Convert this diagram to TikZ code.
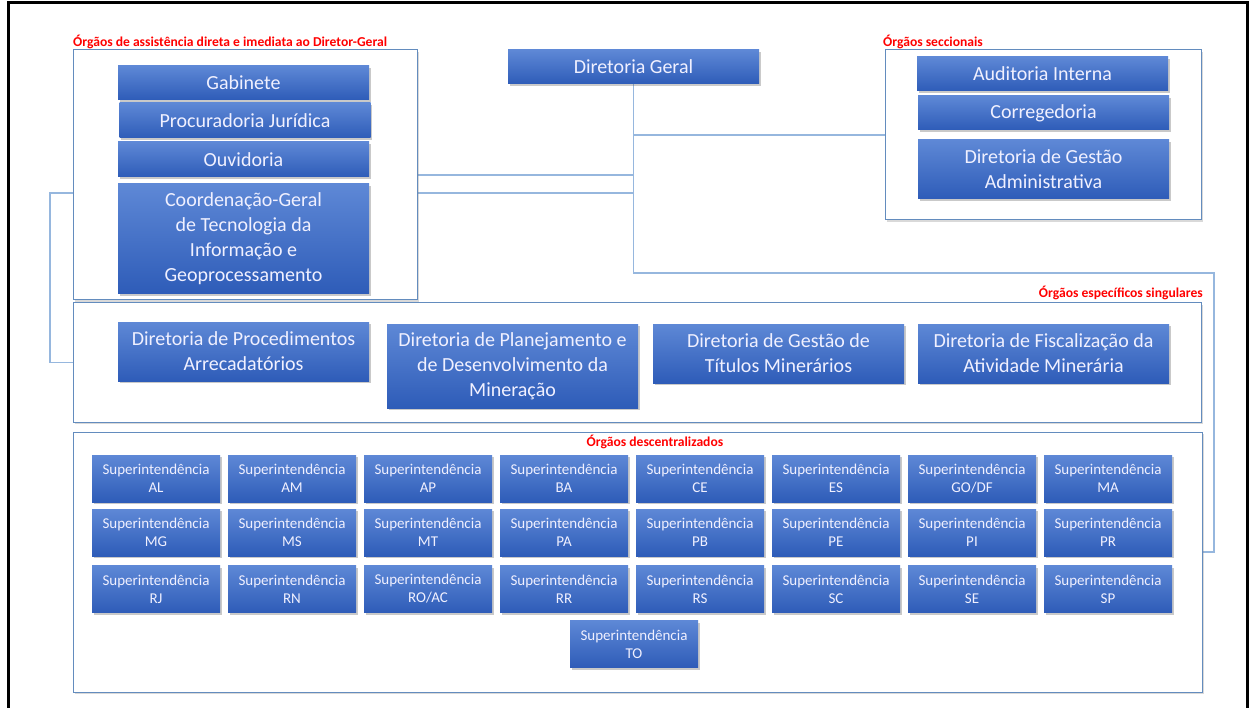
\documentclass[tikz,border=0pt]{standalone}
\usepackage{fontspec}
\setmainfont{Carlito}
\usetikzlibrary{shadows,positioning,backgrounds}
\definecolor{unittop}{RGB}{94,136,214}
\definecolor{unitbot}{RGB}{46,92,184}
\definecolor{groupline}{RGB}{99,140,190}
\definecolor{linkcolor}{RGB}{150,183,222}
\definecolor{titlered}{RGB}{255,0,0}

\begin{document}
\begin{tikzpicture}[x=1pt, y=-1pt,
    unit/.style={rectangle, top color=unittop, bottom color=unitbot, text=white!94!blue, align=center, inner sep=0pt, minimum width=251pt, font=\fontsize{20}{25}\selectfont, drop shadow={shadow xshift=1.5pt, shadow yshift=-2pt, opacity=0.35, fill=black!60}},
    superint/.style={unit, minimum width=128pt, minimum height=47pt, font=\fontsize{15}{18}\selectfont},
    group/.style={rectangle, draw=groupline, line width=1pt, fill=white, inner sep=0pt, drop shadow={shadow xshift=2pt, shadow yshift=-2pt, opacity=0.3, fill=black!50}},
    grouptitle/.style={text=titlered, font=\fontsize{13.6}{15}\selectfont\bfseries, inner sep=0pt},
    link/.style={draw=linkcolor, line width=1.5pt}
]
\useasboundingbox (0,0) rectangle (1249,708);

% Frame
\draw[line width=3pt] (8,720) |- (1247,3) -- (1247,720);

% Groups
\node[group, minimum width=344pt, minimum height=250pt] (gAssist) at (245,175) {};
\node[group, minimum width=316pt, minimum height=170pt] (gSecc) at (1043,135) {};
\node[group, minimum width=1128pt, minimum height=119pt] (gEsp) at (637,362.5) {};
\node[group, minimum width=1129pt, minimum height=260pt] (gDesc) at (637.5,562) {};

\node[grouptitle, anchor=base west] (tAssist) at (73,47) {Órgãos de assistência direta e imediata ao Diretor-Geral};
\node[grouptitle, anchor=base west] (tSecc) at (883,47) {Órgãos seccionais};
\node[grouptitle, anchor=base east] (tEsp) at (1203,298) {Órgãos específicos singulares};
\node[grouptitle, anchor=base] (tDesc) at (655,446) {Órgãos descentralizados};

% Diretoria Geral
\node[unit, minimum height=34pt] (dg) at (633.5,67) {Diretoria Geral};

% Assistencia direta
\node[unit, minimum height=34pt] (gab) at (243.5,83) {Gabinete};
\node[unit, minimum height=35pt] (proc) at (245,120.5) {Procuradoria Jurídica};
\node[unit, minimum height=35pt] (ouv) at (243.5,159.5) {Ouvidoria};
\node[unit, minimum height=110pt] (cgti) at (243.5,239) {Coordenação-Geral\\de Tecnologia da\\Informação e\\Geoprocessamento};

% Seccionais
\node[unit, minimum height=34pt] (aud) at (1042.5,74) {Auditoria Interna};
\node[unit, minimum height=34pt] (corr) at (1043.5,113) {Corregedoria};
\node[unit, minimum height=59pt] (dga) at (1043.5,169.5) {Diretoria de Gestão\\Administrativa};

% Especificos singulares
\node[unit, minimum height=59pt] (dpa) at (243.5,351.5) {Diretoria de Procedimentos\\Arrecadatórios};
\node[unit, minimum height=84pt] (dpdm) at (512.5,366) {Diretoria de Planejamento e\\de Desenvolvimento da\\Mineração};
\node[unit, minimum height=59pt] (dgtm) at (778.5,353.5) {Diretoria de Gestão de\\Títulos Minerários};
\node[unit, minimum height=59pt] (dfam) at (1043.5,353.5) {Diretoria de Fiscalização da\\Atividade Minerária};

% Descentralizados
\foreach \uf [count=\i from 0] in {AL,AM,AP,BA,CE,ES,{GO/DF},MA}
  \node[superint] (supA\i) at (156+136*\i,478.5) {Superintendência\\\uf};
\foreach \uf [count=\i from 0] in {MG,MS,MT,PA,PB,PE,PI,PR}
  \node[superint] (supB\i) at (156+136*\i,532.5) {Superintendência\\\uf};
\foreach \uf [count=\i from 0] in {RJ,RN,{RO/AC},RR,RS,SC,SE,SP}
  \node[superint] (supC\i) at (156+136*\i,589) {Superintendência\\\uf};
\node[superint] (supTO) at (634,644) {Superintendência\\TO};

% Links
\coordinate (kLeft) at (50,193);
\coordinate (kRight) at (1214,273);
\begin{scope}[on background layer]
\draw[link] (dg.south) |- (gSecc.west);
\draw[link] (dg.south) |- (gAssist.east);
\draw[link] (dg.south) |- (kLeft) |- (gEsp.west);
\draw[link] (dg.south) |- (kRight) |- ([yshift=10pt]gDesc.east);
\end{scope}

\end{tikzpicture}
\end{document}
